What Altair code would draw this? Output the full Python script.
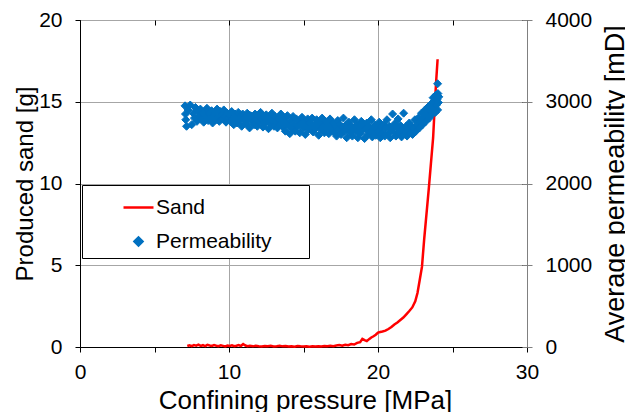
import altair as alt
import pandas as pd

# ---- data ----
sand_p = [7.20, 7.35, 7.50, 7.65, 7.80, 7.95, 8.10, 8.25, 8.40, 8.55, 8.70, 8.85, 9.00, 9.15,
          9.30, 9.45, 9.60, 9.75, 9.90, 10.05, 10.20, 10.35, 10.50, 10.65, 10.80, 10.95, 11.10,
          11.25, 11.40, 11.60, 11.80, 12.00, 12.20, 12.40, 12.60, 12.80, 13.00, 13.20, 13.40,
          13.60, 13.80, 14.00, 14.20, 14.40, 14.60, 14.80, 15.00, 15.20, 15.40, 15.60, 15.80,
          16.00, 16.20, 16.40, 16.60, 16.80, 17.00, 17.20, 17.40, 17.60, 17.80, 18.00, 18.20,
          18.40, 18.60, 18.80, 18.95, 19.10, 19.25, 19.40, 19.55, 19.70, 19.85, 20.00, 20.15,
          20.30, 20.50, 20.70, 20.90, 21.10, 21.30, 21.50, 21.70, 21.90, 22.10, 22.30, 22.50,
          22.65, 22.80, 22.95, 23.10, 23.25, 23.40, 23.55, 23.70, 23.80, 23.90, 24.00]
sand_g = [0.06, 0.10, 0.05, 0.12, 0.08, 0.14, 0.07, 0.11, 0.05, 0.13, 0.09, 0.06, 0.12, 0.08,
          0.05, 0.10, 0.07, 0.04, 0.09, 0.06, 0.10, 0.05, 0.08, 0.12, 0.06, 0.18, 0.09,
          0.05, 0.07, 0.04, 0.08, 0.05, 0.03, 0.06, 0.04, 0.07, 0.03, 0.05, 0.08,
          0.04, 0.06, 0.03, 0.05, 0.02, 0.06, 0.04, 0.03, 0.05, 0.02, 0.04, 0.03,
          0.05, 0.03, 0.06, 0.04, 0.07, 0.05, 0.09, 0.12, 0.08, 0.14, 0.11, 0.18,
          0.15, 0.25, 0.30, 0.50, 0.42, 0.36, 0.48, 0.58, 0.66, 0.75, 0.88, 0.92,
          0.95, 1.00, 1.10, 1.22, 1.38, 1.50, 1.65, 1.80, 2.00, 2.20, 2.42, 2.80,
          3.30, 4.10, 4.90, 6.60, 8.10, 9.60, 11.20, 12.80, 14.60, 16.20, 17.60]

perm_p = [7.05, 7.08, 7.10, 7.15, 7.25, 7.40, 7.50, 7.60, 7.68, 7.75, 7.85, 7.92, 8.00,
          8.08, 8.15, 8.22, 8.30, 8.38, 8.45, 8.52, 8.60, 8.68, 8.75, 8.83, 8.90, 8.98, 9.05,
          9.12, 9.20, 9.28, 9.35, 9.42, 9.50, 9.58, 9.65, 9.72, 9.80, 9.88, 9.95,
          10.03, 10.10, 10.18, 10.25, 10.32, 10.40, 10.48, 10.55, 10.62, 10.70, 10.78, 10.85,
          10.92, 11.00, 11.08, 11.15, 11.22, 11.30, 11.38, 11.45, 11.52, 11.60, 11.68, 11.75,
          11.82, 11.90, 11.98, 12.05, 12.12, 12.20, 12.28, 12.35, 12.42, 12.50, 12.58, 12.65,
          12.72, 12.80, 12.88, 12.95, 13.02, 13.10, 13.18, 13.25, 13.32, 13.40, 13.48, 13.55,
          13.62, 13.70, 13.78, 13.85, 13.92, 14.00, 14.08, 14.15, 14.22, 14.30, 14.38, 14.45,
          14.52, 14.60, 14.68, 14.75, 14.82, 14.90, 14.98, 15.05, 15.12, 15.20, 15.28, 15.35,
          15.42, 15.50, 15.58, 15.65, 15.72, 15.80, 15.88, 15.95, 16.02, 16.10, 16.18, 16.25,
          16.32, 16.40, 16.48, 16.55, 16.62, 16.70, 16.78, 16.85, 16.92,
          17.00, 17.08, 17.15, 17.22, 17.30, 17.38, 17.45, 17.52, 17.60, 17.68, 17.75, 17.82,
          17.90, 17.98, 18.05, 18.12, 18.20, 18.28, 18.35, 18.42, 18.50, 18.58, 18.65, 18.72,
          18.80, 18.88, 18.95, 19.02, 19.10, 19.18, 19.25, 19.32, 19.40, 19.48, 19.55, 19.62,
          19.70, 19.78, 19.85, 19.92, 20.00, 20.08, 20.15, 20.22,
          20.30, 20.38, 20.45, 20.52, 20.60, 20.68, 20.75, 20.82, 20.90, 20.98, 21.05, 21.12,
          21.20, 21.28, 21.35, 21.42, 21.50, 21.58, 21.65, 21.72, 21.80, 21.88, 21.95, 22.02,
          22.10, 22.18, 22.25, 22.32, 22.40, 22.48,
          22.55, 22.62, 22.70, 22.78, 22.85, 22.92, 23.00, 23.08, 23.15, 23.22, 23.30, 23.38,
          23.45, 23.52,
          23.60, 23.65, 23.70, 23.75, 23.80, 23.85, 23.88, 23.92, 23.96, 24.00, 24.02, 24.05,
          24.08, 24.00]
perm_md = [2950, 2850, 2780, 2700, 2900, 2960, 2720, 2860, 2800, 2930, 2760, 2890, 2830,
           2910, 2790, 2860, 2750, 2880, 2820, 2920, 2770, 2850, 2800, 2890, 2740, 2830, 2870,
           2780, 2910, 2810, 2760, 2880, 2840, 2790, 2900, 2820, 2750, 2860, 2800,
           2840, 2760, 2880, 2790, 2720, 2850, 2800, 2740, 2870, 2780, 2820, 2700,
           2850, 2770, 2810, 2730, 2860, 2790, 2680, 2830, 2760, 2800, 2720, 2850,
           2780, 2700, 2820, 2750, 2870, 2790, 2690, 2810, 2740, 2840, 2770, 2670,
           2800, 2730, 2860, 2760, 2700, 2820, 2750, 2680, 2790, 2720, 2850, 2760,
           2690, 2800, 2640, 2740, 2830, 2700, 2610, 2770, 2680, 2820, 2720, 2640,
           2790, 2700, 2760, 2620, 2730, 2810, 2680, 2750, 2600, 2710, 2790, 2660,
           2740, 2690, 2800, 2630, 2720, 2670, 2780, 2700, 2590, 2740, 2660, 2800,
           2700, 2620, 2760, 2680, 2730, 2610, 2790, 2690, 2650,
           2740, 2620, 2700, 2580, 2770, 2660, 2720, 2600, 2690, 2800, 2640, 2710,
           2560, 2680, 2750, 2620, 2700, 2580, 2660, 2780, 2640, 2720, 2560, 2690,
           2610, 2760, 2650, 2700, 2550, 2670, 2740, 2600, 2690, 2630, 2780, 2570,
           2660, 2720, 2590, 2680, 2640, 2750, 2560, 2690,
           2620, 2720, 2580, 2680, 2780, 2610, 2700, 2560, 2660, 2850, 2630, 2730,
           2580, 2690, 2790, 2620, 2710, 2570, 2670, 2860, 2610, 2700, 2580, 2660,
           2740, 2620, 2700, 2600, 2680, 2780,
           2640, 2720, 2800, 2680, 2760, 2860, 2720, 2800, 2900, 2760, 2850, 2940,
           2800, 2890,
           2980, 2850, 3050, 2920, 3000, 2870, 3080, 2960, 3030, 2900, 3100, 2990,
           3060, 3220]

series = ["Sand", "Permeability"]
colors = ["#FF0000", "#0070C0"]
x_ticks = [0, 5, 10, 15, 20, 25, 30]
left_ticks = [0, 5, 10, 15, 20]
right_ticks = [0, 1000, 2000, 3000, 4000]

sand_df = pd.DataFrame({"p": sand_p, "v": sand_g, "series": series[0]})
perm_df = pd.DataFrame({"p": perm_p, "v": perm_md, "series": series[1]})

FONT = "Liberation Sans"

color_scale = alt.Scale(domain=series, range=colors)
shape_scale = alt.Scale(domain=series, range=["stroke", "diamond"])
size_scale = alt.Scale(domain=series, range=[900, 64])
x_scale = alt.Scale(domain=[0, 30], nice=False)
left_scale = alt.Scale(domain=[0, 20], nice=False)
right_scale = alt.Scale(domain=[0, 4000], nice=False)

legend = alt.Legend(
    title="Ma", titleOrient="right", titleOpacity=0, titleFontSize=21, titlePadding=1,
    titleFont=FONT,
    orient="none", legendX=2, legendY=165,
    labelFontSize=21, labelFont=FONT, labelColor="black", labelOffset=1,
    labelLimit=300,
    padding=6, rowPadding=12, symbolOffset=34,
    strokeColor="black", fillColor="white",
    symbolStrokeWidth=2.5, symbolOpacity=1,
)

x_main = alt.Axis(
    title="Confining pressure [MPa]", values=x_ticks,
    labelExpr="datum.value % 10 == 0 ? datum.label : ''",
    labelFlush=False,
    grid=True, gridColor="#A6A6A6",
    gridOpacity={"condition": {"test": "datum.value % 10 != 0", "value": 0}, "value": 1},
    domainColor="black", tickColor="black", tickSize=5,
    labelFontSize=21, labelPadding=9, labelColor="black", labelFont=FONT,
    titleFontSize=26, titleFontWeight="normal", titleFont=FONT, titleColor="black",
    titleX=225, titleY=61, titleAlign="center", titleBaseline="alphabetic",
)
x_inner = alt.Axis(
    title=None, values=x_ticks, labels=False, domain=False, grid=False,
    ticks=True, tickColor="black", tickSize=5, offset=-5,
)
left_main = alt.Axis(
    title="Produced sand [g]", values=left_ticks, grid=True,
    gridColor="#A6A6A6", domainColor="black", tickColor="black", tickSize=5,
    labelFontSize=21, labelPadding=13, labelColor="black", labelFont=FONT,
    titleFontSize=24, titleFontWeight="normal", titleFont=FONT, titleColor="black",
    titleAngle=270, titleX=-48, titleY=163.5, titleAlign="center",
    titleBaseline="alphabetic",
)
left_inner = alt.Axis(
    title=None, values=left_ticks, labels=False, domain=False, grid=False,
    ticks=True, tickColor="black", tickSize=5, offset=-5,
)
right_main = alt.Axis(
    orient="right", title="Average permeability [mD]",
    values=right_ticks, format="d", grid=False,
    domainColor="#808080", tickColor="#808080", tickSize=5,
    labelFontSize=21, labelPadding=13, labelColor="black", labelFont=FONT,
    titleFontSize=27, titleFontWeight="normal", titleFont=FONT, titleColor="black",
    titleAngle=270, titleX=96, titleY=163.5, titleAlign="center",
    titleBaseline="alphabetic",
)
right_inner = alt.Axis(
    orient="right", title=None, values=right_ticks, labels=False, domain=False,
    grid=False, ticks=True, tickColor="#808080", tickSize=5, offset=-5,
)

sand = alt.Chart(sand_df).mark_line(strokeWidth=2.5).encode(
    x=alt.X("p:Q", scale=x_scale, axis=x_main),
    y=alt.Y("v:Q", scale=left_scale, axis=left_main),
    color=alt.Color("series:N", scale=color_scale, legend=legend),
)
sand_ticks = alt.Chart(sand_df).mark_line(opacity=0).encode(
    x=alt.X("p:Q", scale=x_scale, axis=x_inner),
    y=alt.Y("v:Q", scale=left_scale, axis=left_inner),
)

perm = alt.Chart(perm_df).mark_point(filled=True, opacity=1, strokeWidth=1).encode(
    x=alt.X("p:Q", scale=x_scale, axis=None),
    y=alt.Y("v:Q", scale=right_scale, axis=right_main),
    color=alt.Color("series:N", scale=color_scale, legend=legend),
    stroke=alt.Stroke("series:N", scale=color_scale, legend=legend),
    shape=alt.Shape("series:N", scale=shape_scale, legend=legend),
    size=alt.Size("series:N", scale=size_scale, legend=legend),
)
perm_ticks = alt.Chart(perm_df).mark_point(opacity=0).encode(
    x=alt.X("p:Q", scale=x_scale, axis=None),
    y=alt.Y("v:Q", scale=right_scale, axis=right_inner),
)

left_group = alt.layer(sand, sand_ticks).resolve_axis(x="independent", y="independent")
right_group = alt.layer(perm, perm_ticks).resolve_axis(y="independent")

chart = (
    alt.layer(left_group, right_group)
    .resolve_scale(y="independent")
    .resolve_axis(x="independent", y="independent")
    .properties(
        width=447, height=327,
        autosize=alt.AutoSizeParams(type="none"),
        padding={"left": 80, "top": 20, "right": 98, "bottom": 65},
        background="white",
    )
    .configure_view(stroke="black", strokeWidth=1)
)

chart.save("out.html", embed_options={"renderer": "svg", "actions": False})
